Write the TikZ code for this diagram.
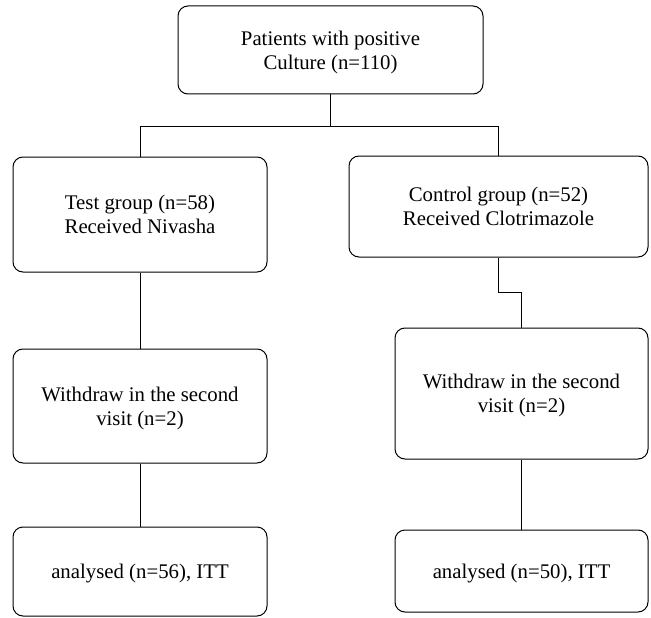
\documentclass[tikz,border=0pt]{standalone}
\usepackage{fontspec}
\setmainfont{Liberation Serif}
\tikzset{
  caja/.style={draw, line width=1pt, rounded corners=10pt, align=center,
    inner sep=0pt, text depth=-2pt, font=\fontsize{20.8}{24}\selectfont},
  linea/.style={line width=1pt}
}
\begin{document}
\begin{tikzpicture}[x=1pt, y=-1pt]
                \useasboundingbox (0,0) rectangle (651,618);
                % Caja inicial
                \node[caja, minimum width=305pt, minimum height=88pt] (total) at (330.5,50) {Patients with positive\\Culture (n=110)};
                % Grupos
                \node[caja, minimum width=254pt, minimum height=115pt] (test) at (140,214.5) {Test group (n=58)\\Received Nivasha};
                \node[caja, minimum width=299pt, minimum height=101pt] (control) at (498.5,206.5) {Control group (n=52)\\Received Clotrimazole};
                % Retirados
                \node[caja, minimum width=254pt, minimum height=114pt] (retiroA) at (140,406) {Withdraw in the second\\visit (n=2)};
                \node[caja, minimum width=253pt, minimum height=131pt] (retiroB) at (521.5,393.5) {Withdraw in the second\\visit (n=2)};
                % Analizados
                \node[caja, minimum width=254pt, minimum height=89pt] (analisisA) at (140,571.5) {analysed (n=56), ITT};
                \node[caja, minimum width=253pt, minimum height=82pt] (analisisB) at (521.5,571) {analysed (n=50), ITT};
                % Conexiones
                \coordinate (reparto) at (330.5,126);
                \draw[linea] (total) -- (reparto);
                \draw[linea] (reparto) -| (test);
                \draw[linea] (reparto) -| (control);
                \draw[linea] (test) -- (retiroA);
                \draw[linea] (retiroA) -- (analisisA);
                \draw[linea] (control.south) -- ++(0,35) -| (retiroB.north);
                \draw[linea] (retiroB) -- (analisisB);
\end{tikzpicture}
\end{document}
